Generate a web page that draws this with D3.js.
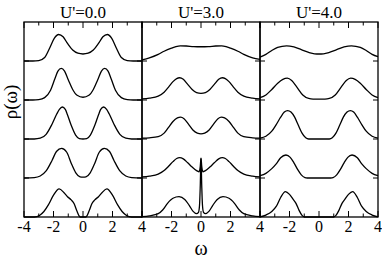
<!DOCTYPE html>
<html><head><meta charset="utf-8">
<script src="https://cdn.jsdelivr.net/npm/d3@7"></script>
<style>body{margin:0;background:#fff}svg{display:block}
text{font-family:"Liberation Serif","DejaVu Serif",serif;fill:#000}</style>
</head><body>
<svg id="c" width="382" height="262"></svg>
<script>
// ---- data ----
const panelTitles = ["U'=0.0", "U'=3.0", "U'=4.0"];
const omegaTicks = [-4, -3, -2, -1, 0, 1, 2, 3, 4];
const omegaLabels = [[-4, -2, 0, 2, 4], [-2, 0, 2, 4], [-2, 0, 2, 4]];
const curveOffsets = [4, 3, 2, 1, 0];
const xLabel = "ω", yLabel = "ρ(ω)";

// U'=0.0, top to bottom
const u0_1 = [[-4,0],[-3.4,0],[-3.0,0.01],[-2.6,0.09],[-2.25,0.34],[-1.95,0.58],[-1.65,0.68],[-1.35,0.62],[-1.05,0.45],[-0.7,0.28],[-0.35,0.2],[0,0.18],[0.35,0.2],[0.7,0.28],[1.05,0.45],[1.35,0.62],[1.65,0.68],[1.95,0.58],[2.25,0.34],[2.6,0.09],[3.0,0.01],[3.4,0],[4,0]];
const u0_2 = [[-4,0],[-3.4,0],[-3.0,0.01],[-2.6,0.06],[-2.2,0.25],[-1.9,0.55],[-1.7,0.74],[-1.47,0.81],[-1.25,0.74],[-1.0,0.52],[-0.7,0.27],[-0.4,0.12],[0,0.07],[0.4,0.12],[0.7,0.27],[1.0,0.52],[1.25,0.74],[1.47,0.81],[1.7,0.74],[1.9,0.55],[2.2,0.25],[2.6,0.06],[3.0,0.01],[3.4,0],[4,0]];
const u0_3 = [[-4,0],[-3.3,0],[-2.9,0.02],[-2.5,0.12],[-2.1,0.38],[-1.78,0.64],[-1.6,0.76],[-1.4,0.82],[-1.2,0.76],[-1.06,0.63],[-0.8,0.35],[-0.5,0.1],[-0.25,0.01],[0,0],[0.25,0.01],[0.5,0.1],[0.8,0.35],[1.06,0.63],[1.2,0.76],[1.4,0.82],[1.6,0.76],[1.78,0.64],[2.1,0.38],[2.5,0.12],[2.9,0.02],[3.3,0],[4,0]];
const u0_4 = [[-4,0],[-3.3,0.01],[-2.9,0.05],[-2.5,0.18],[-2.1,0.45],[-1.8,0.68],[-1.45,0.76],[-1.1,0.66],[-0.8,0.38],[-0.5,0.14],[-0.2,0.03],[0,0.02],[0.2,0.03],[0.5,0.14],[0.8,0.38],[1.1,0.66],[1.45,0.76],[1.8,0.68],[2.1,0.45],[2.5,0.18],[2.9,0.05],[3.3,0.01],[4,0]];
const u0_5 = [[-4,0],[-3.3,0],[-2.95,0.04],[-2.65,0.14],[-2.35,0.31],[-2.0,0.56],[-1.62,0.72],[-1.3,0.63],[-1.05,0.52],[-0.8,0.44],[-0.6,0.34],[-0.42,0.16],[-0.25,0.02],[-0.18,0],[0,0],[0.18,0],[0.25,0.02],[0.42,0.16],[0.6,0.34],[0.8,0.44],[1.05,0.52],[1.3,0.63],[1.62,0.72],[2.0,0.56],[2.35,0.31],[2.65,0.14],[2.95,0.04],[3.3,0],[4,0]];

// U'=3.0
const u3_1 = [[-4,0.03],[-3.5,0.08],[-2.9,0.17],[-2.5,0.25],[-2.0,0.33],[-1.7,0.37],[-1.4,0.39],[-1.0,0.385],[-0.5,0.37],[0,0.365],[0.5,0.37],[1.0,0.385],[1.4,0.39],[1.7,0.37],[2.0,0.33],[2.5,0.25],[2.9,0.17],[3.5,0.08],[4,0.04]];
const u3_2 = [[-4,0.03],[-3.5,0.05],[-2.9,0.1],[-2.5,0.2],[-2.2,0.33],[-1.9,0.47],[-1.65,0.55],[-1.45,0.57],[-1.2,0.53],[-0.9,0.4],[-0.6,0.27],[-0.3,0.19],[0,0.17],[0.3,0.19],[0.6,0.27],[0.9,0.4],[1.2,0.53],[1.45,0.57],[1.65,0.55],[1.9,0.47],[2.2,0.33],[2.5,0.2],[2.9,0.1],[3.5,0.05],[4,0.03]];
const u3_3 = [[-4,0.02],[-3.5,0.03],[-2.9,0.06],[-2.5,0.15],[-2.2,0.3],[-1.9,0.45],[-1.6,0.54],[-1.38,0.56],[-1.15,0.52],[-0.85,0.38],[-0.55,0.23],[-0.25,0.15],[0,0.13],[0.25,0.15],[0.55,0.23],[0.85,0.38],[1.15,0.52],[1.38,0.56],[1.6,0.54],[1.9,0.45],[2.2,0.3],[2.5,0.15],[2.9,0.06],[3.5,0.03],[4,0.02]];
const u3_4 = [[-4,0.03],[-3.5,0.05],[-2.9,0.1],[-2.5,0.19],[-2.2,0.3],[-1.9,0.42],[-1.65,0.5],[-1.45,0.52],[-1.2,0.49],[-0.9,0.39],[-0.6,0.28],[-0.3,0.19],[-0.12,0.16],[-0.05,0.3],[0,0.51],[0.05,0.3],[0.12,0.16],[0.3,0.19],[0.6,0.28],[0.9,0.39],[1.2,0.49],[1.45,0.52],[1.65,0.5],[1.9,0.42],[2.2,0.3],[2.5,0.19],[2.9,0.1],[3.5,0.05],[4,0.03]];
const u3_5 = [[-4,0.01],[-3.5,0.03],[-2.9,0.085],[-2.6,0.18],[-2.27,0.35],[-1.9,0.48],[-1.49,0.52],[-1.1,0.45],[-0.8,0.3],[-0.55,0.15],[-0.3,0.085],[-0.17,0.12],[-0.1,0.3],[-0.05,0.8],[0,1.5],[0.05,0.8],[0.1,0.3],[0.17,0.12],[0.3,0.085],[0.55,0.15],[0.8,0.3],[1.1,0.45],[1.49,0.52],[1.9,0.48],[2.27,0.35],[2.6,0.18],[2.9,0.085],[3.5,0.03],[4,0.01]];

// U'=4.0
const u4_1 = [[-4,0.1],[-3.6,0.17],[-3.2,0.27],[-2.8,0.35],[-2.2,0.39],[-1.7,0.36],[-1.2,0.29],[-0.7,0.22],[-0.3,0.185],[0,0.18],[0.3,0.185],[0.7,0.22],[1.2,0.29],[1.7,0.36],[2.2,0.39],[2.8,0.35],[3.2,0.27],[3.6,0.17],[4,0.11]];
const u4_2 = [[-4,0.06],[-3.6,0.13],[-3.2,0.27],[-2.8,0.43],[-2.45,0.53],[-2.15,0.56],[-1.85,0.5],[-1.5,0.33],[-1.1,0.13],[-0.7,0.04],[-0.4,0.025],[0,0.025],[0.4,0.025],[0.7,0.04],[1.1,0.13],[1.5,0.33],[1.85,0.5],[2.15,0.56],[2.45,0.53],[2.8,0.43],[3.2,0.27],[3.6,0.13],[4,0.06]];
const u4_3 = [[-4,0.02],[-3.6,0.07],[-3.2,0.2],[-2.9,0.37],[-2.6,0.56],[-2.35,0.69],[-2.13,0.73],[-1.9,0.69],[-1.65,0.56],[-1.4,0.35],[-1.15,0.15],[-0.9,0.03],[-0.7,0],[0,0],[0.7,0],[0.9,0.03],[1.15,0.15],[1.4,0.35],[1.65,0.56],[1.9,0.69],[2.13,0.73],[2.35,0.69],[2.6,0.56],[2.9,0.37],[3.2,0.2],[3.6,0.07],[4,0.02]];
const u4_4 = [[-4,0.06],[-3.6,0.12],[-3.2,0.24],[-2.9,0.36],[-2.6,0.52],[-2.24,0.59],[-1.95,0.53],[-1.7,0.39],[-1.45,0.22],[-1.2,0.08],[-0.95,0.01],[-0.8,0],[0,0],[0.8,0],[0.95,0.01],[1.2,0.08],[1.45,0.22],[1.7,0.39],[1.95,0.53],[2.24,0.59],[2.6,0.52],[2.9,0.36],[3.2,0.24],[3.6,0.12],[4,0.06]];
const u4_5 = [[-4,0.005],[-3.6,0.05],[-3.2,0.14],[-2.9,0.27],[-2.6,0.5],[-2.28,0.65],[-2.0,0.58],[-1.75,0.45],[-1.56,0.35],[-1.35,0.17],[-1.15,0.04],[-1.0,0],[0,0],[1.0,0],[1.15,0.04],[1.35,0.17],[1.56,0.35],[1.75,0.45],[2.0,0.58],[2.28,0.65],[2.6,0.5],[2.9,0.27],[3.2,0.14],[3.6,0.05],[4,0.005]];

const panelCurves = [
  [u0_1, u0_2, u0_3, u0_4, u0_5],
  [u3_1, u3_2, u3_3, u3_4, u3_5],
  [u4_1, u4_2, u4_3, u4_4, u4_5]
];

// ---- drawing ----
const svg = d3.select("#c");
const plotLeft = 24, panelW = 118, plotTop = 22, plotBottom = 217;
const y = d3.scaleLinear().domain([0, 5]).range([plotBottom, plotTop]);

panelTitles.forEach((title, i) => {
  const x0 = plotLeft + i * panelW;
  const x = d3.scaleLinear().domain([-4, 4]).range([x0, x0 + panelW]);
  const g = svg.append("g");

  const line = d3.line().x(d => x(d[0])).curve(d3.curveMonotoneX);
  panelCurves[i].forEach((c, k) => {
    const off = curveOffsets[k];
    g.append("path")
      .attr("d", line.y(d => y(d[1] + off))(c))
      .attr("fill", "none").attr("stroke", "#000").attr("stroke-width", 1.3)
      .attr("stroke-linejoin", "round");
  });

  // ticks (inward) on bottom and top
  omegaTicks.forEach(t => {
    const len = (t % 2 === 0) ? 6 : 3.5;
    g.append("line").attr("x1", x(t)).attr("x2", x(t))
      .attr("y1", plotBottom).attr("y2", plotBottom - len)
      .attr("stroke", "#000").attr("stroke-width", 1);
    g.append("line").attr("x1", x(t)).attr("x2", x(t))
      .attr("y1", plotTop).attr("y2", plotTop + len)
      .attr("stroke", "#000").attr("stroke-width", 1);
  });
  // baseline ticks on both sides (inward)
  curveOffsets.filter(o => o > 0).forEach(o => {
    g.append("line").attr("x1", x(-4)).attr("x2", x(-4) + 5)
      .attr("y1", y(o)).attr("y2", y(o)).attr("stroke", "#000").attr("stroke-width", 1);
    g.append("line").attr("x1", x(4)).attr("x2", x(4) - 5)
      .attr("y1", y(o)).attr("y2", y(o)).attr("stroke", "#000").attr("stroke-width", 1);
  });
  // frame
  g.append("rect").attr("x", x(-4)).attr("y", plotTop)
    .attr("width", x(4) - x(-4)).attr("height", plotBottom - plotTop)
    .attr("fill", "none").attr("stroke", "#000").attr("stroke-width", 1.3);

  // tick labels
  omegaLabels[i].forEach(t => {
    g.append("text").attr("x", x(t)).attr("y", 232)
      .attr("text-anchor", "middle")
      .style("font-size", "16px").text(t < 0 ? "-" + Math.abs(t) : String(t));
  });
  // title
  g.append("text").attr("x", (x(-4) + x(4)) / 2).attr("y", 18)
    .attr("text-anchor", "middle")
    .style("font-size", "17px").text(title);
});

svg.append("text").attr("x", plotLeft + 1.5 * panelW).attr("y", 255)
  .attr("text-anchor", "middle")
  .style("font-size", "20px").text(xLabel);
svg.append("text").attr("transform", "translate(17,102) rotate(-90)")
  .attr("text-anchor", "middle")
  .style("font-size", "19px").text(yLabel);
</script>
</body></html>
